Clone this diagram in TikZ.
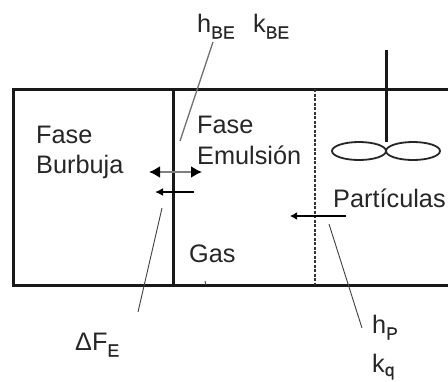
\documentclass[tikz,border=0pt]{standalone}
\usepackage{fontspec}
\setmainfont{Liberation Sans}
\newfontface\subf[FakeBold=0.5]{Liberation Sans}
\usetikzlibrary{arrows.meta,shapes.geometric}
\tikzset{
  wall/.style={line width=3pt,black!90},
  thinline/.style={line width=0.9pt,black!75},
  lbl/.style={inner sep=0pt,anchor=base west,font=\fontsize{25.3}{25}\selectfont,text=black!85},
  blade/.style={draw=black!85,line width=1.8pt,shape=ellipse,minimum width=54pt,minimum height=18pt,inner sep=0pt}
}
\newcommand{\subt}[2][-6.5pt]{\raisebox{#1}{\fontsize{17.5}{17}\subf #2}}
\begin{document}
\begin{tikzpicture}[x=1pt,y=-1pt]
\useasboundingbox (0,0) rectangle (448,381);
\fill[white] (0,0) rectangle (448,381);
% vessel
\draw[wall] (448,89) -- (13,89) -- (13,285) -- (448,285);
\draw[wall] (173,89) -- (173,285);
\draw[line width=1.8pt,dash pattern=on 3pt off 1.5pt,black!80] (315,89) -- (315,285);
% stirrer
\draw[wall] (386,50) -- (386,142);
\node (pL) [blade] at (359,151) {};
\node (pR) [blade] at (413,151) {};
% labels
\node[lbl] (fb) at (36,143) {Fase};
\node[lbl] (bu) at (36,173) {Burbuja};
\node[lbl] (fe) at (197,133) {Fase};
\node[lbl] (em) at (197,164) {Emulsión};
\node[lbl] (pa) at (333,207) {Partículas};
\node[lbl] (ga) at (189,262) {Gas};
\node[lbl] (hbe) at (197,32) {h\subt{BE}};
\node[lbl] (kbe) at (253,32) {k\subt{BE}};
\node[lbl] (df) at (75,350) {ΔF\subt{E}};
\node[lbl] (hp) at (372,333) {h\subt{P}};
\node[lbl] (kq) at (372,372) {k\subt[-4pt]{q}};
% arrows
\coordinate (a1) at (149,172); \coordinate (a2) at (202,172);
\draw[line width=1.8pt,black!50,{Latex[black,length=11pt,width=12pt]}-{Latex[black,length=11pt,width=12pt]}] (a1) -- (a2);
\coordinate (b1) at (194,192); \coordinate (b2) at (155,192);
\draw[line width=1.8pt,black,-{Latex[length=8pt,width=8pt]}] (b1) -- (b2);
\coordinate (c1) at (346,216); \coordinate (c2) at (290,216);
\draw[line width=1.8pt,black,-{Latex[length=7pt,width=8pt]}] (c1) -- (c2);
% leaders
\coordinate (l1) at (213,42); \coordinate (l2) at (180,141);
\draw[line width=1.3pt,black!55] (l1) -- (l2);
\coordinate (l3) at (162,208); \coordinate (l4) at (138,312);
\draw[thinline] (l3) -- (l4);
\coordinate (l5) at (329,224); \coordinate (l6) at (362,328);
\draw[thinline] (l5) -- (l6);
\coordinate (t1) at (205,281); \coordinate (t2) at (206,285);
\draw[line width=0.9pt,black!70] (t1) -- (t2);
\end{tikzpicture}
\end{document}
